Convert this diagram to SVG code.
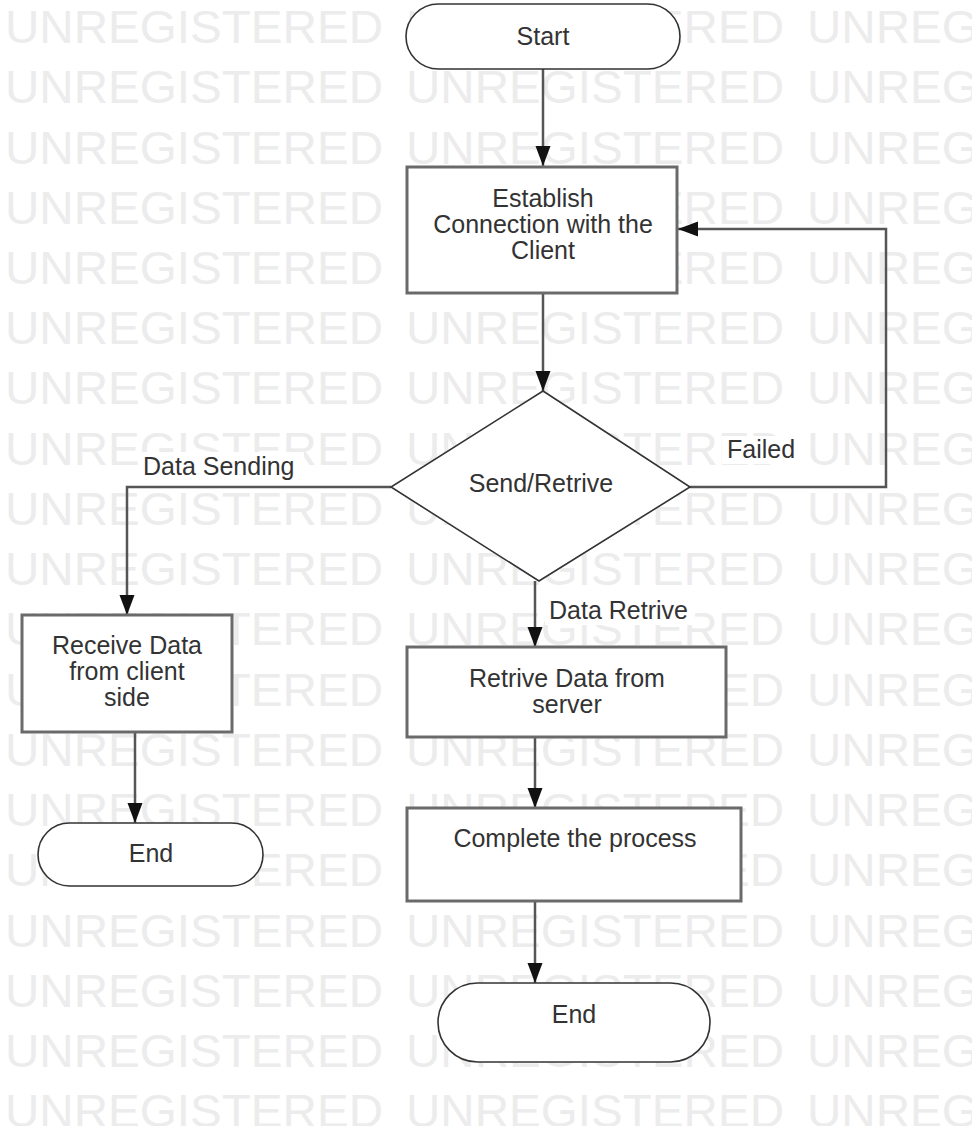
<svg xmlns="http://www.w3.org/2000/svg" xmlns:xlink="http://www.w3.org/1999/xlink" width="972" height="1126" viewBox="0 0 972 1126">
<style>
.wm{font-family:"Liberation Sans",Arial,sans-serif;font-size:46px;fill:#ececec}
.t{font-family:"Liberation Sans",Arial,sans-serif;font-size:25px;fill:#333;text-anchor:middle}
.lbl{font-family:"Liberation Sans",Arial,sans-serif;font-size:25px;fill:#333}
.box{fill:#fff;stroke:#6a6a6a;stroke-width:3}
.term{fill:#fff;stroke:#333;stroke-width:1.6}
.dia{fill:#fff;stroke:#333;stroke-width:1.6}
.ln{fill:none;stroke:#555;stroke-width:2.5}
.bg{fill:#fff}
</style>
<defs>
<marker id="ah" markerUnits="userSpaceOnUse" markerWidth="22" markerHeight="16" refX="20" refY="7.5" orient="auto">
<path d="M0,0 L20,7.5 L0,15 z" fill="#111"/>
</marker>
<g id="wmrow">
<text class="wm" x="5" y="0" textLength="378" lengthAdjust="spacingAndGlyphs">UNREGISTERED</text>
<text class="wm" x="406" y="0" textLength="378" lengthAdjust="spacingAndGlyphs">UNREGISTERED</text>
<text class="wm" x="807" y="0" textLength="378" lengthAdjust="spacingAndGlyphs">UNREGISTERED</text>
</g>
</defs>
<rect width="972" height="1126" fill="#fff"/>
<g id="watermark">
<use xlink:href="#wmrow" y="43"/>
<use xlink:href="#wmrow" y="103.2"/>
<use xlink:href="#wmrow" y="163.5"/>
<use xlink:href="#wmrow" y="223.7"/>
<use xlink:href="#wmrow" y="284"/>
<use xlink:href="#wmrow" y="344.2"/>
<use xlink:href="#wmrow" y="404.4"/>
<use xlink:href="#wmrow" y="464.7"/>
<use xlink:href="#wmrow" y="524.9"/>
<use xlink:href="#wmrow" y="585.2"/>
<use xlink:href="#wmrow" y="645.4"/>
<use xlink:href="#wmrow" y="705.6"/>
<use xlink:href="#wmrow" y="765.9"/>
<use xlink:href="#wmrow" y="826.1"/>
<use xlink:href="#wmrow" y="886.4"/>
<use xlink:href="#wmrow" y="946.6"/>
<use xlink:href="#wmrow" y="1006.8"/>
<use xlink:href="#wmrow" y="1067"/>
<use xlink:href="#wmrow" y="1127"/>
</g>
<g id="connectors">
<line class="ln" x1="543" y1="69" x2="543" y2="166" marker-end="url(#ah)"/>
<line class="ln" x1="543" y1="293" x2="543" y2="391" marker-end="url(#ah)"/>
<polyline class="ln" points="690,487 886,487 886,229 678,229" marker-end="url(#ah)"/>
<polyline class="ln" points="391,487 127,487 127,615" marker-end="url(#ah)"/>
<line class="ln" x1="135" y1="732" x2="135" y2="823" marker-end="url(#ah)"/>
<line class="ln" x1="535" y1="581" x2="535" y2="647" marker-end="url(#ah)"/>
<line class="ln" x1="535" y1="737" x2="535" y2="808" marker-end="url(#ah)"/>
<line class="ln" x1="535" y1="901" x2="535" y2="983" marker-end="url(#ah)"/>
<rect class="bg" x="722" y="436" width="81" height="28"/>
<text class="lbl" x="727" y="458">Failed</text>
<rect class="bg" x="138" y="452" width="166" height="28"/>
<text class="lbl" x="143" y="475">Data Sending</text>
<rect class="bg" x="545" y="598" width="150" height="27"/>
<text class="lbl" x="549" y="619">Data Retrive</text>
</g>
<g id="start">
<rect class="term" x="406" y="4" width="274" height="65" rx="32.5"/>
<text class="t" x="543" y="45">Start</text>
</g>
<g id="establish">
<rect class="box" x="407" y="167" width="270" height="126"/>
<text class="t" x="543" y="207">Establish</text>
<text class="t" x="543" y="233">Connection with the</text>
<text class="t" x="543" y="259">Client</text>
</g>
<g id="decision">
<polygon class="dia" points="543,391 690,487 539,581 391,487"/>
<text class="t" x="541" y="492">Send/Retrive</text>
</g>
<g id="receive">
<rect class="box" x="22" y="615" width="210" height="117"/>
<text class="t" x="127" y="654">Receive Data</text>
<text class="t" x="127" y="680">from client</text>
<text class="t" x="127" y="706">side</text>
</g>
<g id="end-left">
<rect class="term" x="38" y="823" width="225" height="63" rx="31.5"/>
<text class="t" x="151" y="862">End</text>
</g>
<g id="retrieve">
<rect class="box" x="407" y="647" width="319" height="90"/>
<text class="t" x="567" y="687">Retrive Data from</text>
<text class="t" x="567" y="713">server</text>
</g>
<g id="complete">
<rect class="box" x="407" y="808" width="334" height="93"/>
<text class="t" x="575" y="847">Complete the process</text>
</g>
<g id="end-bottom">
<rect class="term" x="438" y="983" width="272" height="79" rx="39.5"/>
<text class="t" x="574" y="1023">End</text>
</g>
</svg>
